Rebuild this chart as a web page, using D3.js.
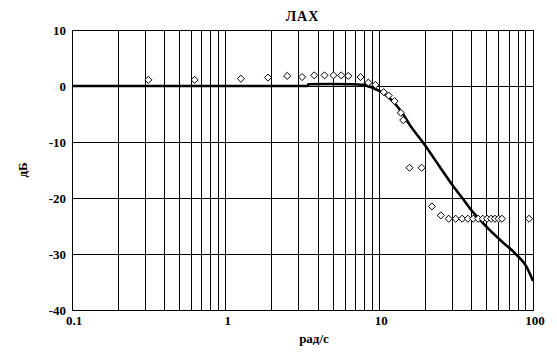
<!DOCTYPE html>
<html>
<head>
<meta charset="utf-8">
<script src="https://cdn.jsdelivr.net/npm/d3@7"></script>
<style>
  body { margin: 0; background: #fff; }
  text { font-family: "Liberation Serif", "Times New Roman", serif; font-weight: bold; fill: #000; }
</style>
</head>
<body>
<script>
// measured points (rad/s, dB)
var measFreq = [0.314, 0.628, 1.257, 1.885, 2.513, 3.142, 3.77, 4.40, 5.03, 5.65, 6.28,
  7.54, 8.48, 9.42, 10.68, 11.5, 12.57, 13.8, 14.3, 15.71, 18.85, 21.99, 25.13,
  28.27, 31.42, 34.56, 37.70, 40.84, 43.98, 47.12, 50.27, 53.41, 56.55, 59.69, 62.83, 94.25];
var measDb = [1.1, 1.1, 1.3, 1.5, 1.8, 1.6, 1.9, 1.9, 1.9, 1.9, 1.8,
  1.6, 0.6, 0.2, -1.1, -1.7, -2.7, -4.8, -6.1, -14.6, -14.6, -21.5, -23.1,
  -23.7, -23.7, -23.7, -23.7, -23.7, -23.7, -23.7, -23.7, -23.7, -23.7, -23.7, -23.7, -23.7];

// model curve (rad/s, dB)
var curveFreq = [0.1, 1, 3.4, 3.45, 4.75, 6.6, 7.82, 9.09, 10.55, 12.26, 14.24, 15.74,
  19.72, 24.69, 30.12, 34.63, 40.64, 49.69, 60.65, 77.85, 90.44, 100];
var curveDb = [0, 0, 0, 0.3, 0.35, 0.3, 0.2, -0.35, -1.25, -2.75, -5.0, -6.9,
  -10.5, -14.4, -17.8, -20.0, -22.5, -25.1, -27.4, -30.1, -32.2, -34.8];

var xTicks = [0.1, 1, 10, 100];
var yTicks = [-40, -30, -20, -10, 0, 10];

var width = 557, height = 355;
var margin = { top: 30, right: 24, bottom: 45, left: 72 };

var svg = d3.select("body").append("svg")
  .attr("width", width)
  .attr("height", height);

var x = d3.scaleLog()
  .domain([0.1, 100])
  .range([margin.left, width - margin.right]);

var y = d3.scaleLinear()
  .domain([-40, 10])
  .range([height - margin.bottom, margin.top]);

// grid
var minor = [];
[0.1, 1, 10].forEach(function (d) {
  for (var k = 2; k <= 9; k++) minor.push(d * k);
});

var grid = svg.append("g")
  .attr("stroke", "#000")
  .attr("stroke-width", 1)
  .attr("shape-rendering", "crispEdges");

grid.selectAll(".vx")
  .data(minor.concat([1, 10]))
  .enter().append("line")
  .attr("x1", function (d) { return x(d); })
  .attr("x2", function (d) { return x(d); })
  .attr("y1", y(10))
  .attr("y2", y(-40));

grid.selectAll(".hy")
  .data([-30, -20, -10, 0])
  .enter().append("line")
  .attr("x1", x(0.1))
  .attr("x2", x(100))
  .attr("y1", function (d) { return y(d); })
  .attr("y2", function (d) { return y(d); });

grid.append("rect")
  .attr("x", x(0.1))
  .attr("y", y(10))
  .attr("width", x(100) - x(0.1))
  .attr("height", y(-40) - y(10))
  .attr("fill", "none");

// tick labels
svg.append("g").selectAll("text")
  .data(yTicks)
  .enter().append("text")
  .attr("x", x(0.1) - 6)
  .attr("y", function (d) { return y(d); })
  .attr("dy", "0.35em")
  .attr("text-anchor", "end")
  .attr("font-size", 13)
  .text(function (d) { return d < 0 ? "-" + Math.abs(d) : d; });

svg.append("g").selectAll("text")
  .data(xTicks)
  .enter().append("text")
  .attr("x", function (d) { return x(d) + 2; })
  .attr("y", y(-40) + 15)
  .attr("text-anchor", "middle")
  .attr("font-size", 13)
  .text(function (d) { return d; });

// titles
svg.append("text")
  .attr("x", (x(0.1) + x(100)) / 2)
  .attr("y", 21)
  .attr("text-anchor", "middle")
  .attr("font-size", 14)
  .attr("letter-spacing", 1)
  .text("ЛАХ");

svg.append("text")
  .attr("x", 314)
  .attr("y", 343)
  .attr("text-anchor", "middle")
  .attr("font-size", 13)
  .text("рад/с");

svg.append("text")
  .attr("transform", "translate(27," + ((y(10) + y(-40)) / 2) + ") rotate(-90)")
  .attr("text-anchor", "middle")
  .attr("font-size", 13)
  .text("дБ");

// model curve
var line = d3.line()
  .x(function (d) { return x(d[0]); })
  .y(function (d) { return y(d[1]); })
  .curve(d3.curveMonotoneX);

svg.append("path")
  .datum(d3.zip(curveFreq, curveDb))
  .attr("fill", "none")
  .attr("stroke", "#000")
  .attr("stroke-width", 2.6)
  .attr("d", line);

// measured points
var sym = d3.symbol().type(d3.symbolDiamond2).size(32);
svg.append("g").selectAll("path")
  .data(d3.zip(measFreq, measDb))
  .enter().append("path")
  .attr("transform", function (d) { return "translate(" + x(d[0]) + "," + y(d[1]) + ")"; })
  .attr("d", sym)
  .attr("fill", "#fff")
  .attr("stroke", "#000")
  .attr("stroke-width", 1);
</script>
</body>
</html>
